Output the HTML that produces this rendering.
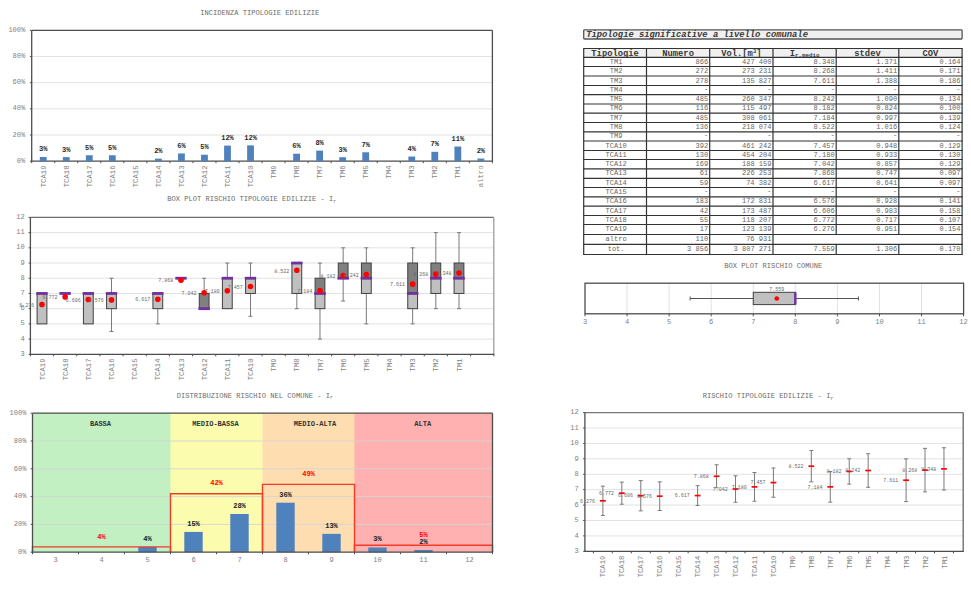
<!DOCTYPE html>
<html><head><meta charset="utf-8"><style>
html,body{margin:0;padding:0;background:#fff;}
svg{display:block;font-family:"Liberation Mono", monospace;}
</style></head><body>
<svg width="971" height="600" viewBox="0 0 971 600">
<text x="200.20" y="15.40" font-size="7.1" fill="#6a6a6a" text-anchor="start" font-weight="normal" font-style="normal" >INCIDENZA TIPOLOGIE EDILIZIE</text>
<line x1="31.70" y1="135.04" x2="492.40" y2="135.04" stroke="#e2e2e2" stroke-width="1" />
<line x1="31.70" y1="108.88" x2="492.40" y2="108.88" stroke="#e2e2e2" stroke-width="1" />
<line x1="31.70" y1="82.72" x2="492.40" y2="82.72" stroke="#e2e2e2" stroke-width="1" />
<line x1="31.70" y1="56.56" x2="492.40" y2="56.56" stroke="#e2e2e2" stroke-width="1" />
<line x1="31.70" y1="30.40" x2="492.40" y2="30.40" stroke="#4d4d4d" stroke-width="1.3" />
<line x1="492.40" y1="30.40" x2="492.40" y2="161.20" stroke="#4d4d4d" stroke-width="1.3" />
<line x1="31.70" y1="30.40" x2="31.70" y2="161.80" stroke="#4d4d4d" stroke-width="1.3" />
<line x1="31.10" y1="161.20" x2="493.00" y2="161.20" stroke="#4d4d4d" stroke-width="1.3" />
<line x1="29.90" y1="161.20" x2="31.70" y2="161.20" stroke="#4d4d4d" stroke-width="1" />
<text x="25.30" y="162.80" font-size="7.05" fill="#7f7f7f" text-anchor="end" font-weight="normal" font-style="normal" >0%</text>
<line x1="29.90" y1="135.04" x2="31.70" y2="135.04" stroke="#4d4d4d" stroke-width="1" />
<text x="25.30" y="136.64" font-size="7.05" fill="#7f7f7f" text-anchor="end" font-weight="normal" font-style="normal" >20%</text>
<line x1="29.90" y1="108.88" x2="31.70" y2="108.88" stroke="#4d4d4d" stroke-width="1" />
<text x="25.30" y="110.48" font-size="7.05" fill="#7f7f7f" text-anchor="end" font-weight="normal" font-style="normal" >40%</text>
<line x1="29.90" y1="82.72" x2="31.70" y2="82.72" stroke="#4d4d4d" stroke-width="1" />
<text x="25.30" y="84.32" font-size="7.05" fill="#7f7f7f" text-anchor="end" font-weight="normal" font-style="normal" >60%</text>
<line x1="29.90" y1="56.56" x2="31.70" y2="56.56" stroke="#4d4d4d" stroke-width="1" />
<text x="25.30" y="58.16" font-size="7.05" fill="#7f7f7f" text-anchor="end" font-weight="normal" font-style="normal" >80%</text>
<line x1="29.90" y1="30.40" x2="31.70" y2="30.40" stroke="#4d4d4d" stroke-width="1" />
<text x="25.30" y="32.00" font-size="7.05" fill="#7f7f7f" text-anchor="end" font-weight="normal" font-style="normal" >100%</text>
<line x1="31.70" y1="161.20" x2="31.70" y2="163.20" stroke="#4d4d4d" stroke-width="1" />
<line x1="54.73" y1="161.20" x2="54.73" y2="163.20" stroke="#4d4d4d" stroke-width="1" />
<line x1="77.77" y1="161.20" x2="77.77" y2="163.20" stroke="#4d4d4d" stroke-width="1" />
<line x1="100.81" y1="161.20" x2="100.81" y2="163.20" stroke="#4d4d4d" stroke-width="1" />
<line x1="123.84" y1="161.20" x2="123.84" y2="163.20" stroke="#4d4d4d" stroke-width="1" />
<line x1="146.88" y1="161.20" x2="146.88" y2="163.20" stroke="#4d4d4d" stroke-width="1" />
<line x1="169.91" y1="161.20" x2="169.91" y2="163.20" stroke="#4d4d4d" stroke-width="1" />
<line x1="192.94" y1="161.20" x2="192.94" y2="163.20" stroke="#4d4d4d" stroke-width="1" />
<line x1="215.98" y1="161.20" x2="215.98" y2="163.20" stroke="#4d4d4d" stroke-width="1" />
<line x1="239.01" y1="161.20" x2="239.01" y2="163.20" stroke="#4d4d4d" stroke-width="1" />
<line x1="262.05" y1="161.20" x2="262.05" y2="163.20" stroke="#4d4d4d" stroke-width="1" />
<line x1="285.08" y1="161.20" x2="285.08" y2="163.20" stroke="#4d4d4d" stroke-width="1" />
<line x1="308.12" y1="161.20" x2="308.12" y2="163.20" stroke="#4d4d4d" stroke-width="1" />
<line x1="331.15" y1="161.20" x2="331.15" y2="163.20" stroke="#4d4d4d" stroke-width="1" />
<line x1="354.19" y1="161.20" x2="354.19" y2="163.20" stroke="#4d4d4d" stroke-width="1" />
<line x1="377.22" y1="161.20" x2="377.22" y2="163.20" stroke="#4d4d4d" stroke-width="1" />
<line x1="400.26" y1="161.20" x2="400.26" y2="163.20" stroke="#4d4d4d" stroke-width="1" />
<line x1="423.30" y1="161.20" x2="423.30" y2="163.20" stroke="#4d4d4d" stroke-width="1" />
<line x1="446.33" y1="161.20" x2="446.33" y2="163.20" stroke="#4d4d4d" stroke-width="1" />
<line x1="469.37" y1="161.20" x2="469.37" y2="163.20" stroke="#4d4d4d" stroke-width="1" />
<line x1="492.40" y1="161.20" x2="492.40" y2="163.20" stroke="#4d4d4d" stroke-width="1" />
<rect x="39.82" y="156.97" width="6.80" height="4.23" fill="#4f81bd" stroke="none" stroke-width="1" />
<text x="43.22" y="151.47" font-size="7.05" fill="#2a2a2a" text-anchor="middle" font-weight="bold" font-style="normal" >3%</text>
<text transform="translate(45.83,165.50) rotate(-90)" font-size="7.25" fill="#7f7f7f" text-anchor="end">TCA19</text>
<rect x="62.85" y="157.14" width="6.80" height="4.06" fill="#4f81bd" stroke="none" stroke-width="1" />
<text x="66.25" y="151.64" font-size="7.05" fill="#2a2a2a" text-anchor="middle" font-weight="bold" font-style="normal" >3%</text>
<text transform="translate(68.86,165.50) rotate(-90)" font-size="7.25" fill="#7f7f7f" text-anchor="end">TCA18</text>
<rect x="85.89" y="155.24" width="6.80" height="5.96" fill="#4f81bd" stroke="none" stroke-width="1" />
<text x="89.29" y="149.74" font-size="7.05" fill="#2a2a2a" text-anchor="middle" font-weight="bold" font-style="normal" >5%</text>
<text transform="translate(91.90,165.50) rotate(-90)" font-size="7.25" fill="#7f7f7f" text-anchor="end">TCA17</text>
<rect x="108.92" y="155.26" width="6.80" height="5.94" fill="#4f81bd" stroke="none" stroke-width="1" />
<text x="112.32" y="149.76" font-size="7.05" fill="#2a2a2a" text-anchor="middle" font-weight="bold" font-style="normal" >5%</text>
<text transform="translate(114.93,165.50) rotate(-90)" font-size="7.25" fill="#7f7f7f" text-anchor="end">TCA16</text>
<text transform="translate(137.97,165.50) rotate(-90)" font-size="7.25" fill="#7f7f7f" text-anchor="end">TCA15</text>
<rect x="154.99" y="158.64" width="6.80" height="2.56" fill="#4f81bd" stroke="none" stroke-width="1" />
<text x="158.39" y="153.14" font-size="7.05" fill="#2a2a2a" text-anchor="middle" font-weight="bold" font-style="normal" >2%</text>
<text transform="translate(161.00,165.50) rotate(-90)" font-size="7.25" fill="#7f7f7f" text-anchor="end">TCA14</text>
<rect x="178.03" y="153.43" width="6.80" height="7.77" fill="#4f81bd" stroke="none" stroke-width="1" />
<text x="181.43" y="147.93" font-size="7.05" fill="#2a2a2a" text-anchor="middle" font-weight="bold" font-style="normal" >6%</text>
<text transform="translate(184.04,165.50) rotate(-90)" font-size="7.25" fill="#7f7f7f" text-anchor="end">TCA13</text>
<rect x="201.06" y="154.74" width="6.80" height="6.46" fill="#4f81bd" stroke="none" stroke-width="1" />
<text x="204.46" y="149.24" font-size="7.05" fill="#2a2a2a" text-anchor="middle" font-weight="bold" font-style="normal" >5%</text>
<text transform="translate(207.07,165.50) rotate(-90)" font-size="7.25" fill="#7f7f7f" text-anchor="end">TCA12</text>
<rect x="224.10" y="145.60" width="6.80" height="15.60" fill="#4f81bd" stroke="none" stroke-width="1" />
<text x="227.50" y="140.10" font-size="7.05" fill="#2a2a2a" text-anchor="middle" font-weight="bold" font-style="normal" >12%</text>
<text transform="translate(230.11,165.50) rotate(-90)" font-size="7.25" fill="#7f7f7f" text-anchor="end">TCA11</text>
<rect x="247.13" y="145.35" width="6.80" height="15.85" fill="#4f81bd" stroke="none" stroke-width="1" />
<text x="250.53" y="139.85" font-size="7.05" fill="#2a2a2a" text-anchor="middle" font-weight="bold" font-style="normal" >12%</text>
<text transform="translate(253.14,165.50) rotate(-90)" font-size="7.25" fill="#7f7f7f" text-anchor="end">TCA10</text>
<text transform="translate(276.18,165.50) rotate(-90)" font-size="7.25" fill="#7f7f7f" text-anchor="end">TM9</text>
<rect x="293.20" y="153.71" width="6.80" height="7.49" fill="#4f81bd" stroke="none" stroke-width="1" />
<text x="296.60" y="148.21" font-size="7.05" fill="#2a2a2a" text-anchor="middle" font-weight="bold" font-style="normal" >6%</text>
<text transform="translate(299.21,165.50) rotate(-90)" font-size="7.25" fill="#7f7f7f" text-anchor="end">TM8</text>
<rect x="316.24" y="150.62" width="6.80" height="10.58" fill="#4f81bd" stroke="none" stroke-width="1" />
<text x="319.64" y="145.12" font-size="7.05" fill="#2a2a2a" text-anchor="middle" font-weight="bold" font-style="normal" >8%</text>
<text transform="translate(322.25,165.50) rotate(-90)" font-size="7.25" fill="#7f7f7f" text-anchor="end">TM7</text>
<rect x="339.27" y="157.23" width="6.80" height="3.97" fill="#4f81bd" stroke="none" stroke-width="1" />
<text x="342.67" y="151.73" font-size="7.05" fill="#2a2a2a" text-anchor="middle" font-weight="bold" font-style="normal" >3%</text>
<text transform="translate(345.28,165.50) rotate(-90)" font-size="7.25" fill="#7f7f7f" text-anchor="end">TM6</text>
<rect x="362.31" y="152.26" width="6.80" height="8.94" fill="#4f81bd" stroke="none" stroke-width="1" />
<text x="365.71" y="146.76" font-size="7.05" fill="#2a2a2a" text-anchor="middle" font-weight="bold" font-style="normal" >7%</text>
<text transform="translate(368.32,165.50) rotate(-90)" font-size="7.25" fill="#7f7f7f" text-anchor="end">TM5</text>
<text transform="translate(391.35,165.50) rotate(-90)" font-size="7.25" fill="#7f7f7f" text-anchor="end">TM4</text>
<rect x="408.38" y="156.53" width="6.80" height="4.67" fill="#4f81bd" stroke="none" stroke-width="1" />
<text x="411.78" y="151.03" font-size="7.05" fill="#2a2a2a" text-anchor="middle" font-weight="bold" font-style="normal" >4%</text>
<text transform="translate(414.39,165.50) rotate(-90)" font-size="7.25" fill="#7f7f7f" text-anchor="end">TM3</text>
<rect x="431.41" y="151.81" width="6.80" height="9.39" fill="#4f81bd" stroke="none" stroke-width="1" />
<text x="434.81" y="146.31" font-size="7.05" fill="#2a2a2a" text-anchor="middle" font-weight="bold" font-style="normal" >7%</text>
<text transform="translate(437.42,165.50) rotate(-90)" font-size="7.25" fill="#7f7f7f" text-anchor="end">TM2</text>
<rect x="454.45" y="146.52" width="6.80" height="14.68" fill="#4f81bd" stroke="none" stroke-width="1" />
<text x="457.85" y="141.02" font-size="7.05" fill="#2a2a2a" text-anchor="middle" font-weight="bold" font-style="normal" >11%</text>
<text transform="translate(460.46,165.50) rotate(-90)" font-size="7.25" fill="#7f7f7f" text-anchor="end">TM1</text>
<rect x="477.48" y="158.56" width="6.80" height="2.64" fill="#4f81bd" stroke="none" stroke-width="1" />
<text x="480.88" y="153.06" font-size="7.05" fill="#2a2a2a" text-anchor="middle" font-weight="bold" font-style="normal" >2%</text>
<text transform="translate(483.49,165.50) rotate(-90)" font-size="7.25" fill="#7f7f7f" text-anchor="end">altro</text>
<text x="167.20" y="201.20" font-size="7.1" fill="#6a6a6a" text-anchor="start" font-weight="normal" font-style="normal" >BOX PLOT RISCHIO TIPOLOGIE EDILIZIE - I<tspan font-size="4.5" dy="1.8">r</tspan></text>
<line x1="30.40" y1="339.09" x2="493.75" y2="339.09" stroke="#e2e2e2" stroke-width="1" />
<line x1="30.40" y1="323.88" x2="493.75" y2="323.88" stroke="#e2e2e2" stroke-width="1" />
<line x1="30.40" y1="308.67" x2="493.75" y2="308.67" stroke="#e2e2e2" stroke-width="1" />
<line x1="30.40" y1="293.46" x2="493.75" y2="293.46" stroke="#e2e2e2" stroke-width="1" />
<line x1="30.40" y1="278.24" x2="493.75" y2="278.24" stroke="#e2e2e2" stroke-width="1" />
<line x1="30.40" y1="263.03" x2="493.75" y2="263.03" stroke="#e2e2e2" stroke-width="1" />
<line x1="30.40" y1="247.82" x2="493.75" y2="247.82" stroke="#e2e2e2" stroke-width="1" />
<line x1="30.40" y1="232.61" x2="493.75" y2="232.61" stroke="#e2e2e2" stroke-width="1" />
<line x1="30.40" y1="217.40" x2="493.75" y2="217.40" stroke="#6e6e6e" stroke-width="1.2" />
<line x1="493.75" y1="217.40" x2="493.75" y2="354.30" stroke="#aaaaaa" stroke-width="1.5" />
<line x1="30.40" y1="217.40" x2="30.40" y2="354.90" stroke="#4d4d4d" stroke-width="1.3" />
<line x1="29.80" y1="354.30" x2="494.35" y2="354.30" stroke="#4d4d4d" stroke-width="1.3" />
<line x1="28.60" y1="354.30" x2="30.40" y2="354.30" stroke="#4d4d4d" stroke-width="1" />
<text x="24.80" y="355.90" font-size="7.05" fill="#7f7f7f" text-anchor="end" font-weight="normal" font-style="normal" >3</text>
<line x1="28.60" y1="339.09" x2="30.40" y2="339.09" stroke="#4d4d4d" stroke-width="1" />
<text x="24.80" y="340.69" font-size="7.05" fill="#7f7f7f" text-anchor="end" font-weight="normal" font-style="normal" >4</text>
<line x1="28.60" y1="323.88" x2="30.40" y2="323.88" stroke="#4d4d4d" stroke-width="1" />
<text x="24.80" y="325.48" font-size="7.05" fill="#7f7f7f" text-anchor="end" font-weight="normal" font-style="normal" >5</text>
<line x1="28.60" y1="308.67" x2="30.40" y2="308.67" stroke="#4d4d4d" stroke-width="1" />
<text x="24.80" y="310.27" font-size="7.05" fill="#7f7f7f" text-anchor="end" font-weight="normal" font-style="normal" >6</text>
<line x1="28.60" y1="293.46" x2="30.40" y2="293.46" stroke="#4d4d4d" stroke-width="1" />
<text x="24.80" y="295.06" font-size="7.05" fill="#7f7f7f" text-anchor="end" font-weight="normal" font-style="normal" >7</text>
<line x1="28.60" y1="278.24" x2="30.40" y2="278.24" stroke="#4d4d4d" stroke-width="1" />
<text x="24.80" y="279.84" font-size="7.05" fill="#7f7f7f" text-anchor="end" font-weight="normal" font-style="normal" >8</text>
<line x1="28.60" y1="263.03" x2="30.40" y2="263.03" stroke="#4d4d4d" stroke-width="1" />
<text x="24.80" y="264.63" font-size="7.05" fill="#7f7f7f" text-anchor="end" font-weight="normal" font-style="normal" >9</text>
<line x1="28.60" y1="247.82" x2="30.40" y2="247.82" stroke="#4d4d4d" stroke-width="1" />
<text x="24.80" y="249.42" font-size="7.05" fill="#7f7f7f" text-anchor="end" font-weight="normal" font-style="normal" >10</text>
<line x1="28.60" y1="232.61" x2="30.40" y2="232.61" stroke="#4d4d4d" stroke-width="1" />
<text x="24.80" y="234.21" font-size="7.05" fill="#7f7f7f" text-anchor="end" font-weight="normal" font-style="normal" >11</text>
<line x1="28.60" y1="217.40" x2="30.40" y2="217.40" stroke="#4d4d4d" stroke-width="1" />
<text x="24.80" y="219.00" font-size="7.05" fill="#7f7f7f" text-anchor="end" font-weight="normal" font-style="normal" >12</text>
<line x1="30.40" y1="354.30" x2="30.40" y2="356.30" stroke="#4d4d4d" stroke-width="1" />
<line x1="53.57" y1="354.30" x2="53.57" y2="356.30" stroke="#4d4d4d" stroke-width="1" />
<line x1="76.73" y1="354.30" x2="76.73" y2="356.30" stroke="#4d4d4d" stroke-width="1" />
<line x1="99.90" y1="354.30" x2="99.90" y2="356.30" stroke="#4d4d4d" stroke-width="1" />
<line x1="123.07" y1="354.30" x2="123.07" y2="356.30" stroke="#4d4d4d" stroke-width="1" />
<line x1="146.24" y1="354.30" x2="146.24" y2="356.30" stroke="#4d4d4d" stroke-width="1" />
<line x1="169.41" y1="354.30" x2="169.41" y2="356.30" stroke="#4d4d4d" stroke-width="1" />
<line x1="192.57" y1="354.30" x2="192.57" y2="356.30" stroke="#4d4d4d" stroke-width="1" />
<line x1="215.74" y1="354.30" x2="215.74" y2="356.30" stroke="#4d4d4d" stroke-width="1" />
<line x1="238.91" y1="354.30" x2="238.91" y2="356.30" stroke="#4d4d4d" stroke-width="1" />
<line x1="262.07" y1="354.30" x2="262.07" y2="356.30" stroke="#4d4d4d" stroke-width="1" />
<line x1="285.24" y1="354.30" x2="285.24" y2="356.30" stroke="#4d4d4d" stroke-width="1" />
<line x1="308.41" y1="354.30" x2="308.41" y2="356.30" stroke="#4d4d4d" stroke-width="1" />
<line x1="331.58" y1="354.30" x2="331.58" y2="356.30" stroke="#4d4d4d" stroke-width="1" />
<line x1="354.75" y1="354.30" x2="354.75" y2="356.30" stroke="#4d4d4d" stroke-width="1" />
<line x1="377.91" y1="354.30" x2="377.91" y2="356.30" stroke="#4d4d4d" stroke-width="1" />
<line x1="401.08" y1="354.30" x2="401.08" y2="356.30" stroke="#4d4d4d" stroke-width="1" />
<line x1="424.25" y1="354.30" x2="424.25" y2="356.30" stroke="#4d4d4d" stroke-width="1" />
<line x1="447.41" y1="354.30" x2="447.41" y2="356.30" stroke="#4d4d4d" stroke-width="1" />
<line x1="470.58" y1="354.30" x2="470.58" y2="356.30" stroke="#4d4d4d" stroke-width="1" />
<line x1="493.75" y1="354.30" x2="493.75" y2="356.30" stroke="#4d4d4d" stroke-width="1" />
<text transform="translate(44.59,358.50) rotate(-90)" font-size="7.25" fill="#7f7f7f" text-anchor="end">TCA19</text>
<rect x="37.08" y="293.46" width="9.80" height="30.42" fill="#c0c0c0" stroke="#404040" stroke-width="1" />
<rect x="36.28" y="292.06" width="11.40" height="2.80" fill="#7030a0" stroke="none" stroke-width="1" />
<circle cx="41.98" cy="304.47" r="2.8" fill="#ff0000"/>
<text x="34.38" y="306.67" font-size="5" fill="#666" text-anchor="end" font-weight="normal" font-style="normal" >6.276</text>
<text transform="translate(67.76,358.50) rotate(-90)" font-size="7.25" fill="#7f7f7f" text-anchor="end">TCA18</text>
<rect x="59.45" y="292.06" width="11.40" height="2.80" fill="#7030a0" stroke="none" stroke-width="1" />
<circle cx="65.15" cy="296.92" r="2.8" fill="#ff0000"/>
<text x="57.55" y="299.12" font-size="5" fill="#666" text-anchor="end" font-weight="normal" font-style="normal" >6.772</text>
<text transform="translate(90.93,358.50) rotate(-90)" font-size="7.25" fill="#7f7f7f" text-anchor="end">TCA17</text>
<rect x="83.42" y="293.46" width="9.80" height="30.42" fill="#c0c0c0" stroke="#404040" stroke-width="1" />
<rect x="82.62" y="292.06" width="11.40" height="2.80" fill="#7030a0" stroke="none" stroke-width="1" />
<circle cx="88.32" cy="299.45" r="2.8" fill="#ff0000"/>
<text x="80.72" y="301.65" font-size="5" fill="#666" text-anchor="end" font-weight="normal" font-style="normal" >6.606</text>
<text transform="translate(114.10,358.50) rotate(-90)" font-size="7.25" fill="#7f7f7f" text-anchor="end">TCA16</text>
<line x1="111.49" y1="331.48" x2="111.49" y2="308.67" stroke="#7a7a7a" stroke-width="1" />
<line x1="109.49" y1="331.48" x2="113.49" y2="331.48" stroke="#7a7a7a" stroke-width="1" />
<line x1="111.49" y1="278.24" x2="111.49" y2="293.46" stroke="#7a7a7a" stroke-width="1" />
<line x1="109.49" y1="278.24" x2="113.49" y2="278.24" stroke="#7a7a7a" stroke-width="1" />
<rect x="106.59" y="293.46" width="9.80" height="15.21" fill="#c0c0c0" stroke="#404040" stroke-width="1" />
<rect x="105.79" y="292.06" width="11.40" height="2.80" fill="#7030a0" stroke="none" stroke-width="1" />
<circle cx="111.49" cy="299.91" r="2.8" fill="#ff0000"/>
<text x="103.89" y="302.11" font-size="5" fill="#666" text-anchor="end" font-weight="normal" font-style="normal" >6.576</text>
<text transform="translate(137.26,358.50) rotate(-90)" font-size="7.25" fill="#7f7f7f" text-anchor="end">TCA15</text>
<text transform="translate(160.43,358.50) rotate(-90)" font-size="7.25" fill="#7f7f7f" text-anchor="end">TCA14</text>
<line x1="157.82" y1="323.88" x2="157.82" y2="308.67" stroke="#7a7a7a" stroke-width="1" />
<line x1="155.82" y1="323.88" x2="159.82" y2="323.88" stroke="#7a7a7a" stroke-width="1" />
<rect x="152.92" y="293.46" width="9.80" height="15.21" fill="#c0c0c0" stroke="#404040" stroke-width="1" />
<rect x="152.12" y="292.06" width="11.40" height="2.80" fill="#7030a0" stroke="none" stroke-width="1" />
<circle cx="157.82" cy="299.28" r="2.8" fill="#ff0000"/>
<text x="150.22" y="301.48" font-size="5" fill="#666" text-anchor="end" font-weight="normal" font-style="normal" >6.617</text>
<text transform="translate(183.60,358.50) rotate(-90)" font-size="7.25" fill="#7f7f7f" text-anchor="end">TCA13</text>
<rect x="175.29" y="276.84" width="11.40" height="2.80" fill="#7030a0" stroke="none" stroke-width="1" />
<circle cx="180.99" cy="280.25" r="2.8" fill="#ff0000"/>
<text x="173.39" y="282.45" font-size="5" fill="#666" text-anchor="end" font-weight="normal" font-style="normal" >7.868</text>
<text transform="translate(206.77,358.50) rotate(-90)" font-size="7.25" fill="#7f7f7f" text-anchor="end">TCA12</text>
<line x1="204.16" y1="278.24" x2="204.16" y2="293.46" stroke="#7a7a7a" stroke-width="1" />
<line x1="202.16" y1="278.24" x2="206.16" y2="278.24" stroke="#7a7a7a" stroke-width="1" />
<rect x="199.26" y="293.46" width="9.80" height="15.21" fill="#808080" stroke="#404040" stroke-width="1" />
<rect x="198.46" y="307.27" width="11.40" height="2.80" fill="#7030a0" stroke="none" stroke-width="1" />
<circle cx="204.16" cy="292.82" r="2.8" fill="#ff0000"/>
<text x="196.56" y="295.02" font-size="5" fill="#666" text-anchor="end" font-weight="normal" font-style="normal" >7.042</text>
<text transform="translate(229.93,358.50) rotate(-90)" font-size="7.25" fill="#7f7f7f" text-anchor="end">TCA11</text>
<line x1="227.32" y1="263.03" x2="227.32" y2="278.24" stroke="#7a7a7a" stroke-width="1" />
<line x1="225.32" y1="263.03" x2="229.32" y2="263.03" stroke="#7a7a7a" stroke-width="1" />
<rect x="222.42" y="278.24" width="9.80" height="30.42" fill="#c0c0c0" stroke="#404040" stroke-width="1" />
<rect x="221.62" y="276.84" width="11.40" height="2.80" fill="#7030a0" stroke="none" stroke-width="1" />
<circle cx="227.32" cy="290.72" r="2.8" fill="#ff0000"/>
<text x="219.72" y="292.92" font-size="5" fill="#666" text-anchor="end" font-weight="normal" font-style="normal" >7.180</text>
<text transform="translate(253.10,358.50) rotate(-90)" font-size="7.25" fill="#7f7f7f" text-anchor="end">TCA10</text>
<line x1="250.49" y1="316.27" x2="250.49" y2="293.46" stroke="#7a7a7a" stroke-width="1" />
<line x1="248.49" y1="316.27" x2="252.49" y2="316.27" stroke="#7a7a7a" stroke-width="1" />
<line x1="250.49" y1="263.03" x2="250.49" y2="278.24" stroke="#7a7a7a" stroke-width="1" />
<line x1="248.49" y1="263.03" x2="252.49" y2="263.03" stroke="#7a7a7a" stroke-width="1" />
<rect x="245.59" y="278.24" width="9.80" height="15.21" fill="#c0c0c0" stroke="#404040" stroke-width="1" />
<rect x="244.79" y="276.84" width="11.40" height="2.80" fill="#7030a0" stroke="none" stroke-width="1" />
<circle cx="250.49" cy="286.50" r="2.8" fill="#ff0000"/>
<text x="242.89" y="288.70" font-size="5" fill="#666" text-anchor="end" font-weight="normal" font-style="normal" >7.457</text>
<text transform="translate(276.27,358.50) rotate(-90)" font-size="7.25" fill="#7f7f7f" text-anchor="end">TM9</text>
<text transform="translate(299.44,358.50) rotate(-90)" font-size="7.25" fill="#7f7f7f" text-anchor="end">TM8</text>
<line x1="296.83" y1="308.67" x2="296.83" y2="293.46" stroke="#7a7a7a" stroke-width="1" />
<line x1="294.83" y1="308.67" x2="298.83" y2="308.67" stroke="#7a7a7a" stroke-width="1" />
<rect x="291.93" y="263.03" width="9.80" height="30.42" fill="#c0c0c0" stroke="#404040" stroke-width="1" />
<rect x="291.13" y="261.63" width="11.40" height="2.80" fill="#7030a0" stroke="none" stroke-width="1" />
<circle cx="296.83" cy="270.30" r="2.8" fill="#ff0000"/>
<text x="289.23" y="272.50" font-size="5" fill="#666" text-anchor="end" font-weight="normal" font-style="normal" >8.522</text>
<text transform="translate(322.60,358.50) rotate(-90)" font-size="7.25" fill="#7f7f7f" text-anchor="end">TM7</text>
<line x1="319.99" y1="339.09" x2="319.99" y2="308.67" stroke="#7a7a7a" stroke-width="1" />
<line x1="317.99" y1="339.09" x2="321.99" y2="339.09" stroke="#7a7a7a" stroke-width="1" />
<line x1="319.99" y1="263.03" x2="319.99" y2="278.24" stroke="#7a7a7a" stroke-width="1" />
<line x1="317.99" y1="263.03" x2="321.99" y2="263.03" stroke="#7a7a7a" stroke-width="1" />
<rect x="315.09" y="293.46" width="9.80" height="15.21" fill="#c0c0c0" stroke="#404040" stroke-width="1" />
<rect x="315.09" y="278.24" width="9.80" height="15.21" fill="#808080" stroke="#404040" stroke-width="1" />
<rect x="314.29" y="292.06" width="11.40" height="2.80" fill="#7030a0" stroke="none" stroke-width="1" />
<circle cx="319.99" cy="290.66" r="2.8" fill="#ff0000"/>
<text x="312.39" y="292.86" font-size="5" fill="#666" text-anchor="end" font-weight="normal" font-style="normal" >7.184</text>
<text transform="translate(345.77,358.50) rotate(-90)" font-size="7.25" fill="#7f7f7f" text-anchor="end">TM6</text>
<line x1="343.16" y1="301.06" x2="343.16" y2="278.24" stroke="#7a7a7a" stroke-width="1" />
<line x1="341.16" y1="301.06" x2="345.16" y2="301.06" stroke="#7a7a7a" stroke-width="1" />
<line x1="343.16" y1="247.82" x2="343.16" y2="263.03" stroke="#7a7a7a" stroke-width="1" />
<line x1="341.16" y1="247.82" x2="345.16" y2="247.82" stroke="#7a7a7a" stroke-width="1" />
<rect x="338.26" y="263.03" width="9.80" height="15.21" fill="#808080" stroke="#404040" stroke-width="1" />
<rect x="337.46" y="276.84" width="11.40" height="2.80" fill="#7030a0" stroke="none" stroke-width="1" />
<circle cx="343.16" cy="275.48" r="2.8" fill="#ff0000"/>
<text x="335.56" y="277.68" font-size="5" fill="#666" text-anchor="end" font-weight="normal" font-style="normal" >8.182</text>
<text transform="translate(368.94,358.50) rotate(-90)" font-size="7.25" fill="#7f7f7f" text-anchor="end">TM5</text>
<line x1="366.33" y1="323.88" x2="366.33" y2="293.46" stroke="#7a7a7a" stroke-width="1" />
<line x1="364.33" y1="323.88" x2="368.33" y2="323.88" stroke="#7a7a7a" stroke-width="1" />
<line x1="366.33" y1="247.82" x2="366.33" y2="263.03" stroke="#7a7a7a" stroke-width="1" />
<line x1="364.33" y1="247.82" x2="368.33" y2="247.82" stroke="#7a7a7a" stroke-width="1" />
<rect x="361.43" y="278.24" width="9.80" height="15.21" fill="#c0c0c0" stroke="#404040" stroke-width="1" />
<rect x="361.43" y="263.03" width="9.80" height="15.21" fill="#808080" stroke="#404040" stroke-width="1" />
<rect x="360.63" y="276.84" width="11.40" height="2.80" fill="#7030a0" stroke="none" stroke-width="1" />
<circle cx="366.33" cy="274.56" r="2.8" fill="#ff0000"/>
<text x="358.73" y="276.76" font-size="5" fill="#666" text-anchor="end" font-weight="normal" font-style="normal" >8.242</text>
<text transform="translate(392.11,358.50) rotate(-90)" font-size="7.25" fill="#7f7f7f" text-anchor="end">TM4</text>
<text transform="translate(415.27,358.50) rotate(-90)" font-size="7.25" fill="#7f7f7f" text-anchor="end">TM3</text>
<line x1="412.66" y1="323.88" x2="412.66" y2="308.67" stroke="#7a7a7a" stroke-width="1" />
<line x1="410.66" y1="323.88" x2="414.66" y2="323.88" stroke="#7a7a7a" stroke-width="1" />
<line x1="412.66" y1="247.82" x2="412.66" y2="263.03" stroke="#7a7a7a" stroke-width="1" />
<line x1="410.66" y1="247.82" x2="414.66" y2="247.82" stroke="#7a7a7a" stroke-width="1" />
<rect x="407.76" y="293.46" width="9.80" height="15.21" fill="#c0c0c0" stroke="#404040" stroke-width="1" />
<rect x="407.76" y="263.03" width="9.80" height="30.42" fill="#808080" stroke="#404040" stroke-width="1" />
<rect x="406.96" y="292.06" width="11.40" height="2.80" fill="#7030a0" stroke="none" stroke-width="1" />
<circle cx="412.66" cy="284.16" r="2.8" fill="#ff0000"/>
<text x="405.06" y="286.36" font-size="5" fill="#666" text-anchor="end" font-weight="normal" font-style="normal" >7.611</text>
<text transform="translate(438.44,358.50) rotate(-90)" font-size="7.25" fill="#7f7f7f" text-anchor="end">TM2</text>
<line x1="435.83" y1="308.67" x2="435.83" y2="293.46" stroke="#7a7a7a" stroke-width="1" />
<line x1="433.83" y1="308.67" x2="437.83" y2="308.67" stroke="#7a7a7a" stroke-width="1" />
<line x1="435.83" y1="232.61" x2="435.83" y2="263.03" stroke="#7a7a7a" stroke-width="1" />
<line x1="433.83" y1="232.61" x2="437.83" y2="232.61" stroke="#7a7a7a" stroke-width="1" />
<rect x="430.93" y="278.24" width="9.80" height="15.21" fill="#c0c0c0" stroke="#404040" stroke-width="1" />
<rect x="430.93" y="263.03" width="9.80" height="15.21" fill="#808080" stroke="#404040" stroke-width="1" />
<rect x="430.13" y="276.84" width="11.40" height="2.80" fill="#7030a0" stroke="none" stroke-width="1" />
<circle cx="435.83" cy="274.17" r="2.8" fill="#ff0000"/>
<text x="428.23" y="276.37" font-size="5" fill="#666" text-anchor="end" font-weight="normal" font-style="normal" >8.268</text>
<text transform="translate(461.61,358.50) rotate(-90)" font-size="7.25" fill="#7f7f7f" text-anchor="end">TM1</text>
<line x1="459.00" y1="308.67" x2="459.00" y2="293.46" stroke="#7a7a7a" stroke-width="1" />
<line x1="457.00" y1="308.67" x2="461.00" y2="308.67" stroke="#7a7a7a" stroke-width="1" />
<line x1="459.00" y1="232.61" x2="459.00" y2="263.03" stroke="#7a7a7a" stroke-width="1" />
<line x1="457.00" y1="232.61" x2="461.00" y2="232.61" stroke="#7a7a7a" stroke-width="1" />
<rect x="454.10" y="278.24" width="9.80" height="15.21" fill="#c0c0c0" stroke="#404040" stroke-width="1" />
<rect x="454.10" y="263.03" width="9.80" height="15.21" fill="#808080" stroke="#404040" stroke-width="1" />
<rect x="453.30" y="276.84" width="11.40" height="2.80" fill="#7030a0" stroke="none" stroke-width="1" />
<circle cx="459.00" cy="272.95" r="2.8" fill="#ff0000"/>
<text x="451.40" y="275.15" font-size="5" fill="#666" text-anchor="end" font-weight="normal" font-style="normal" >8.348</text>
<text x="176.70" y="397.50" font-size="7.1" fill="#6a6a6a" text-anchor="start" font-weight="normal" font-style="normal" >DISTRIBUZIONE RISCHIO NEL COMUNE - I<tspan font-size="4.5" dy="1.8">r</tspan></text>
<rect x="32.50" y="413.20" width="460.00" height="139.00" fill="#c2f0c2" stroke="none" stroke-width="1" />
<rect x="170.50" y="413.20" width="322.00" height="139.00" fill="#fcfcae" stroke="none" stroke-width="1" />
<rect x="262.50" y="413.20" width="230.00" height="139.00" fill="#fedeb0" stroke="none" stroke-width="1" />
<rect x="354.50" y="413.20" width="138.00" height="139.00" fill="#ffb0b0" stroke="none" stroke-width="1" />
<line x1="32.50" y1="524.40" x2="492.50" y2="524.40" stroke="#d4d4d4" stroke-width="1" opacity="0.85"/>
<line x1="32.50" y1="496.60" x2="492.50" y2="496.60" stroke="#d4d4d4" stroke-width="1" opacity="0.85"/>
<line x1="32.50" y1="468.80" x2="492.50" y2="468.80" stroke="#d4d4d4" stroke-width="1" opacity="0.85"/>
<line x1="32.50" y1="441.00" x2="492.50" y2="441.00" stroke="#d4d4d4" stroke-width="1" opacity="0.85"/>
<rect x="138.30" y="546.92" width="18.40" height="5.28" fill="#4f81bd" stroke="none" stroke-width="1" />
<text x="147.50" y="540.92" font-size="7.05" fill="#1a1a1a" text-anchor="middle" font-weight="bold" font-style="normal" >4%</text>
<rect x="184.30" y="531.91" width="18.40" height="20.29" fill="#4f81bd" stroke="none" stroke-width="1" />
<text x="193.50" y="525.91" font-size="7.05" fill="#1a1a1a" text-anchor="middle" font-weight="bold" font-style="normal" >15%</text>
<rect x="230.30" y="513.98" width="18.40" height="38.23" fill="#4f81bd" stroke="none" stroke-width="1" />
<text x="239.50" y="507.98" font-size="7.05" fill="#1a1a1a" text-anchor="middle" font-weight="bold" font-style="normal" >28%</text>
<rect x="276.30" y="502.72" width="18.40" height="49.48" fill="#4f81bd" stroke="none" stroke-width="1" />
<text x="285.50" y="496.72" font-size="7.05" fill="#1a1a1a" text-anchor="middle" font-weight="bold" font-style="normal" >36%</text>
<rect x="322.30" y="533.85" width="18.40" height="18.35" fill="#4f81bd" stroke="none" stroke-width="1" />
<text x="331.50" y="527.85" font-size="7.05" fill="#1a1a1a" text-anchor="middle" font-weight="bold" font-style="normal" >13%</text>
<rect x="368.30" y="547.47" width="18.40" height="4.73" fill="#4f81bd" stroke="none" stroke-width="1" />
<text x="377.50" y="541.47" font-size="7.05" fill="#1a1a1a" text-anchor="middle" font-weight="bold" font-style="normal" >3%</text>
<rect x="414.30" y="549.98" width="18.40" height="2.22" fill="#4f81bd" stroke="none" stroke-width="1" />
<text x="423.50" y="543.98" font-size="7.05" fill="#1a1a1a" text-anchor="middle" font-weight="bold" font-style="normal" >2%</text>
<path d="M32.50,552.20 L32.50,546.92 L170.50,546.92 L170.50,552.20" fill="none" stroke="#f03c28" stroke-width="1.4"/>
<text x="101.50" y="538.52" font-size="7.05" fill="#ff0000" text-anchor="middle" font-weight="bold" font-style="normal" >4%</text>
<text x="100.50" y="426.20" font-size="7.05" fill="#333" text-anchor="middle" font-weight="bold" font-style="normal" >BASSA</text>
<path d="M170.50,552.20 L170.50,493.68 L262.50,493.68 L262.50,552.20" fill="none" stroke="#f03c28" stroke-width="1.4"/>
<text x="216.50" y="485.28" font-size="7.05" fill="#ff0000" text-anchor="middle" font-weight="bold" font-style="normal" >42%</text>
<text x="215.50" y="426.20" font-size="7.05" fill="#333" text-anchor="middle" font-weight="bold" font-style="normal" >MEDIO-BASSA</text>
<path d="M262.50,552.20 L262.50,484.37 L354.50,484.37 L354.50,552.20" fill="none" stroke="#f03c28" stroke-width="1.4"/>
<text x="308.50" y="475.97" font-size="7.05" fill="#ff0000" text-anchor="middle" font-weight="bold" font-style="normal" >49%</text>
<text x="315.00" y="426.20" font-size="7.05" fill="#333" text-anchor="middle" font-weight="bold" font-style="normal" >MEDIO-ALTA</text>
<path d="M354.50,552.20 L354.50,545.25 L492.50,545.25 L492.50,552.20" fill="none" stroke="#f03c28" stroke-width="1.4"/>
<text x="423.50" y="536.85" font-size="7.05" fill="#ff0000" text-anchor="middle" font-weight="bold" font-style="normal" >5%</text>
<text x="422.80" y="426.20" font-size="7.05" fill="#333" text-anchor="middle" font-weight="bold" font-style="normal" >ALTA</text>
<line x1="32.50" y1="413.20" x2="492.50" y2="413.20" stroke="#4d4d4d" stroke-width="1.3" />
<line x1="492.50" y1="413.20" x2="492.50" y2="552.20" stroke="#4d4d4d" stroke-width="1.3" />
<line x1="32.50" y1="413.20" x2="32.50" y2="552.80" stroke="#4d4d4d" stroke-width="1.3" />
<line x1="31.90" y1="552.20" x2="493.10" y2="552.20" stroke="#4d4d4d" stroke-width="1.3" />
<line x1="30.70" y1="552.20" x2="32.50" y2="552.20" stroke="#4d4d4d" stroke-width="1" />
<text x="26.50" y="554.00" font-size="7.05" fill="#7f7f7f" text-anchor="end" font-weight="normal" font-style="normal" >0%</text>
<line x1="30.70" y1="524.40" x2="32.50" y2="524.40" stroke="#4d4d4d" stroke-width="1" />
<text x="26.50" y="526.20" font-size="7.05" fill="#7f7f7f" text-anchor="end" font-weight="normal" font-style="normal" >20%</text>
<line x1="30.70" y1="496.60" x2="32.50" y2="496.60" stroke="#4d4d4d" stroke-width="1" />
<text x="26.50" y="498.40" font-size="7.05" fill="#7f7f7f" text-anchor="end" font-weight="normal" font-style="normal" >40%</text>
<line x1="30.70" y1="468.80" x2="32.50" y2="468.80" stroke="#4d4d4d" stroke-width="1" />
<text x="26.50" y="470.60" font-size="7.05" fill="#7f7f7f" text-anchor="end" font-weight="normal" font-style="normal" >60%</text>
<line x1="30.70" y1="441.00" x2="32.50" y2="441.00" stroke="#4d4d4d" stroke-width="1" />
<text x="26.50" y="442.80" font-size="7.05" fill="#7f7f7f" text-anchor="end" font-weight="normal" font-style="normal" >80%</text>
<line x1="30.70" y1="413.20" x2="32.50" y2="413.20" stroke="#4d4d4d" stroke-width="1" />
<text x="26.50" y="415.00" font-size="7.05" fill="#7f7f7f" text-anchor="end" font-weight="normal" font-style="normal" >100%</text>
<line x1="32.50" y1="552.20" x2="32.50" y2="554.20" stroke="#4d4d4d" stroke-width="1" />
<line x1="78.50" y1="552.20" x2="78.50" y2="554.20" stroke="#4d4d4d" stroke-width="1" />
<line x1="124.50" y1="552.20" x2="124.50" y2="554.20" stroke="#4d4d4d" stroke-width="1" />
<line x1="170.50" y1="552.20" x2="170.50" y2="554.20" stroke="#4d4d4d" stroke-width="1" />
<line x1="216.50" y1="552.20" x2="216.50" y2="554.20" stroke="#4d4d4d" stroke-width="1" />
<line x1="262.50" y1="552.20" x2="262.50" y2="554.20" stroke="#4d4d4d" stroke-width="1" />
<line x1="308.50" y1="552.20" x2="308.50" y2="554.20" stroke="#4d4d4d" stroke-width="1" />
<line x1="354.50" y1="552.20" x2="354.50" y2="554.20" stroke="#4d4d4d" stroke-width="1" />
<line x1="400.50" y1="552.20" x2="400.50" y2="554.20" stroke="#4d4d4d" stroke-width="1" />
<line x1="446.50" y1="552.20" x2="446.50" y2="554.20" stroke="#4d4d4d" stroke-width="1" />
<line x1="492.50" y1="552.20" x2="492.50" y2="554.20" stroke="#4d4d4d" stroke-width="1" />
<text x="55.50" y="562.00" font-size="7.05" fill="#7f7f7f" text-anchor="middle" font-weight="normal" font-style="normal" >3</text>
<text x="101.50" y="562.00" font-size="7.05" fill="#7f7f7f" text-anchor="middle" font-weight="normal" font-style="normal" >4</text>
<text x="147.50" y="562.00" font-size="7.05" fill="#7f7f7f" text-anchor="middle" font-weight="normal" font-style="normal" >5</text>
<text x="193.50" y="562.00" font-size="7.05" fill="#7f7f7f" text-anchor="middle" font-weight="normal" font-style="normal" >6</text>
<text x="239.50" y="562.00" font-size="7.05" fill="#7f7f7f" text-anchor="middle" font-weight="normal" font-style="normal" >7</text>
<text x="285.50" y="562.00" font-size="7.05" fill="#7f7f7f" text-anchor="middle" font-weight="normal" font-style="normal" >8</text>
<text x="331.50" y="562.00" font-size="7.05" fill="#7f7f7f" text-anchor="middle" font-weight="normal" font-style="normal" >9</text>
<text x="377.50" y="562.00" font-size="7.05" fill="#7f7f7f" text-anchor="middle" font-weight="normal" font-style="normal" >10</text>
<text x="423.50" y="562.00" font-size="7.05" fill="#7f7f7f" text-anchor="middle" font-weight="normal" font-style="normal" >11</text>
<text x="469.50" y="562.00" font-size="7.05" fill="#7f7f7f" text-anchor="middle" font-weight="normal" font-style="normal" >12</text>
<rect x="583.70" y="29.80" width="378.40" height="9.20" fill="#f0f0f0" stroke="#555" stroke-width="1.3" rx="0.8"/>
<text x="586.20" y="37.00" font-size="8.8" fill="#383838" text-anchor="start" font-weight="bold" font-style="italic" >Tipologie significative a livello comunale</text>
<rect x="583.70" y="48.50" width="378.40" height="8.80" fill="#f0f0f0" stroke="none" stroke-width="1" />
<text x="615.10" y="55.50" font-size="8.8" fill="#383838" text-anchor="middle" font-weight="bold" font-style="normal" >Tipologie</text>
<text x="678.10" y="55.50" font-size="8.8" fill="#383838" text-anchor="middle" font-weight="bold" font-style="normal" >Numero</text>
<text x="741.35" y="55.50" font-size="8.8" fill="#383838" text-anchor="middle" font-weight="bold" font-style="normal" >Vol.[m<tspan font-size="5.5" dy="-3">3</tspan><tspan dy="3">]</tspan></text>
<text x="804.60" y="55.50" font-size="8.8" fill="#383838" text-anchor="middle" font-weight="bold" font-style="normal" >I<tspan font-size="5.8" dy="1.6">r,medio</tspan></text>
<text x="867.50" y="55.50" font-size="8.8" fill="#383838" text-anchor="middle" font-weight="bold" font-style="normal" >stdev</text>
<text x="930.45" y="55.50" font-size="8.8" fill="#383838" text-anchor="middle" font-weight="bold" font-style="normal" >COV</text>
<text x="616.10" y="63.70" font-size="7" fill="#666" text-anchor="middle" font-weight="normal" font-style="normal" >TM1</text>
<text x="708.10" y="63.70" font-size="7" fill="#666" text-anchor="end" font-weight="normal" font-style="normal" >866</text>
<text x="771.40" y="63.70" font-size="7" fill="#666" text-anchor="end" font-weight="normal" font-style="normal" >427 400</text>
<text x="834.60" y="63.70" font-size="7" fill="#666" text-anchor="end" font-weight="normal" font-style="normal" >8.348</text>
<text x="897.20" y="63.70" font-size="7" fill="#666" text-anchor="end" font-weight="normal" font-style="normal" >1.371</text>
<text x="960.50" y="63.70" font-size="7" fill="#666" text-anchor="end" font-weight="normal" font-style="normal" >0.164</text>
<text x="616.10" y="73.05" font-size="7" fill="#666" text-anchor="middle" font-weight="normal" font-style="normal" >TM2</text>
<text x="708.10" y="73.05" font-size="7" fill="#666" text-anchor="end" font-weight="normal" font-style="normal" >272</text>
<text x="771.40" y="73.05" font-size="7" fill="#666" text-anchor="end" font-weight="normal" font-style="normal" >273 231</text>
<text x="834.60" y="73.05" font-size="7" fill="#666" text-anchor="end" font-weight="normal" font-style="normal" >8.268</text>
<text x="897.20" y="73.05" font-size="7" fill="#666" text-anchor="end" font-weight="normal" font-style="normal" >1.411</text>
<text x="960.50" y="73.05" font-size="7" fill="#666" text-anchor="end" font-weight="normal" font-style="normal" >0.171</text>
<text x="616.10" y="82.55" font-size="7" fill="#666" text-anchor="middle" font-weight="normal" font-style="normal" >TM3</text>
<text x="708.10" y="82.55" font-size="7" fill="#666" text-anchor="end" font-weight="normal" font-style="normal" >278</text>
<text x="771.40" y="82.55" font-size="7" fill="#666" text-anchor="end" font-weight="normal" font-style="normal" >135 827</text>
<text x="834.60" y="82.55" font-size="7" fill="#666" text-anchor="end" font-weight="normal" font-style="normal" >7.611</text>
<text x="897.20" y="82.55" font-size="7" fill="#666" text-anchor="end" font-weight="normal" font-style="normal" >1.388</text>
<text x="960.50" y="82.55" font-size="7" fill="#666" text-anchor="end" font-weight="normal" font-style="normal" >0.186</text>
<text x="616.10" y="91.90" font-size="7" fill="#666" text-anchor="middle" font-weight="normal" font-style="normal" >TM4</text>
<text x="708.10" y="90.90" font-size="7" fill="#666" text-anchor="end" font-weight="normal" font-style="normal" >-</text>
<text x="771.40" y="90.90" font-size="7" fill="#666" text-anchor="end" font-weight="normal" font-style="normal" >-</text>
<text x="834.60" y="90.90" font-size="7" fill="#666" text-anchor="end" font-weight="normal" font-style="normal" >-</text>
<text x="897.20" y="90.90" font-size="7" fill="#666" text-anchor="end" font-weight="normal" font-style="normal" >-</text>
<text x="960.50" y="90.90" font-size="7" fill="#666" text-anchor="end" font-weight="normal" font-style="normal" >-</text>
<text x="616.10" y="101.15" font-size="7" fill="#666" text-anchor="middle" font-weight="normal" font-style="normal" >TM5</text>
<text x="708.10" y="101.15" font-size="7" fill="#666" text-anchor="end" font-weight="normal" font-style="normal" >485</text>
<text x="771.40" y="101.15" font-size="7" fill="#666" text-anchor="end" font-weight="normal" font-style="normal" >260 347</text>
<text x="834.60" y="101.15" font-size="7" fill="#666" text-anchor="end" font-weight="normal" font-style="normal" >8.242</text>
<text x="897.20" y="101.15" font-size="7" fill="#666" text-anchor="end" font-weight="normal" font-style="normal" >1.090</text>
<text x="960.50" y="101.15" font-size="7" fill="#666" text-anchor="end" font-weight="normal" font-style="normal" >0.134</text>
<text x="616.10" y="110.40" font-size="7" fill="#666" text-anchor="middle" font-weight="normal" font-style="normal" >TM6</text>
<text x="708.10" y="110.40" font-size="7" fill="#666" text-anchor="end" font-weight="normal" font-style="normal" >116</text>
<text x="771.40" y="110.40" font-size="7" fill="#666" text-anchor="end" font-weight="normal" font-style="normal" >115 497</text>
<text x="834.60" y="110.40" font-size="7" fill="#666" text-anchor="end" font-weight="normal" font-style="normal" >8.182</text>
<text x="897.20" y="110.40" font-size="7" fill="#666" text-anchor="end" font-weight="normal" font-style="normal" >0.824</text>
<text x="960.50" y="110.40" font-size="7" fill="#666" text-anchor="end" font-weight="normal" font-style="normal" >0.100</text>
<text x="616.10" y="119.65" font-size="7" fill="#666" text-anchor="middle" font-weight="normal" font-style="normal" >TM7</text>
<text x="708.10" y="119.65" font-size="7" fill="#666" text-anchor="end" font-weight="normal" font-style="normal" >485</text>
<text x="771.40" y="119.65" font-size="7" fill="#666" text-anchor="end" font-weight="normal" font-style="normal" >308 061</text>
<text x="834.60" y="119.65" font-size="7" fill="#666" text-anchor="end" font-weight="normal" font-style="normal" >7.184</text>
<text x="897.20" y="119.65" font-size="7" fill="#666" text-anchor="end" font-weight="normal" font-style="normal" >0.997</text>
<text x="960.50" y="119.65" font-size="7" fill="#666" text-anchor="end" font-weight="normal" font-style="normal" >0.139</text>
<text x="616.10" y="128.95" font-size="7" fill="#666" text-anchor="middle" font-weight="normal" font-style="normal" >TM8</text>
<text x="708.10" y="128.95" font-size="7" fill="#666" text-anchor="end" font-weight="normal" font-style="normal" >136</text>
<text x="771.40" y="128.95" font-size="7" fill="#666" text-anchor="end" font-weight="normal" font-style="normal" >218 074</text>
<text x="834.60" y="128.95" font-size="7" fill="#666" text-anchor="end" font-weight="normal" font-style="normal" >8.522</text>
<text x="897.20" y="128.95" font-size="7" fill="#666" text-anchor="end" font-weight="normal" font-style="normal" >1.016</text>
<text x="960.50" y="128.95" font-size="7" fill="#666" text-anchor="end" font-weight="normal" font-style="normal" >0.124</text>
<text x="616.10" y="138.20" font-size="7" fill="#666" text-anchor="middle" font-weight="normal" font-style="normal" >TM9</text>
<text x="708.10" y="137.20" font-size="7" fill="#666" text-anchor="end" font-weight="normal" font-style="normal" >-</text>
<text x="771.40" y="137.20" font-size="7" fill="#666" text-anchor="end" font-weight="normal" font-style="normal" >-</text>
<text x="834.60" y="137.20" font-size="7" fill="#666" text-anchor="end" font-weight="normal" font-style="normal" >-</text>
<text x="897.20" y="137.20" font-size="7" fill="#666" text-anchor="end" font-weight="normal" font-style="normal" >-</text>
<text x="960.50" y="137.20" font-size="7" fill="#666" text-anchor="end" font-weight="normal" font-style="normal" >-</text>
<text x="616.10" y="147.55" font-size="7" fill="#666" text-anchor="middle" font-weight="normal" font-style="normal" >TCA10</text>
<text x="708.10" y="147.55" font-size="7" fill="#666" text-anchor="end" font-weight="normal" font-style="normal" >392</text>
<text x="771.40" y="147.55" font-size="7" fill="#666" text-anchor="end" font-weight="normal" font-style="normal" >461 242</text>
<text x="834.60" y="147.55" font-size="7" fill="#666" text-anchor="end" font-weight="normal" font-style="normal" >7.457</text>
<text x="897.20" y="147.55" font-size="7" fill="#666" text-anchor="end" font-weight="normal" font-style="normal" >0.948</text>
<text x="960.50" y="147.55" font-size="7" fill="#666" text-anchor="end" font-weight="normal" font-style="normal" >0.129</text>
<text x="616.10" y="156.80" font-size="7" fill="#666" text-anchor="middle" font-weight="normal" font-style="normal" >TCA11</text>
<text x="708.10" y="156.80" font-size="7" fill="#666" text-anchor="end" font-weight="normal" font-style="normal" >130</text>
<text x="771.40" y="156.80" font-size="7" fill="#666" text-anchor="end" font-weight="normal" font-style="normal" >454 204</text>
<text x="834.60" y="156.80" font-size="7" fill="#666" text-anchor="end" font-weight="normal" font-style="normal" >7.180</text>
<text x="897.20" y="156.80" font-size="7" fill="#666" text-anchor="end" font-weight="normal" font-style="normal" >0.933</text>
<text x="960.50" y="156.80" font-size="7" fill="#666" text-anchor="end" font-weight="normal" font-style="normal" >0.130</text>
<text x="616.10" y="165.95" font-size="7" fill="#666" text-anchor="middle" font-weight="normal" font-style="normal" >TCA12</text>
<text x="708.10" y="165.95" font-size="7" fill="#666" text-anchor="end" font-weight="normal" font-style="normal" >169</text>
<text x="771.40" y="165.95" font-size="7" fill="#666" text-anchor="end" font-weight="normal" font-style="normal" >188 159</text>
<text x="834.60" y="165.95" font-size="7" fill="#666" text-anchor="end" font-weight="normal" font-style="normal" >7.042</text>
<text x="897.20" y="165.95" font-size="7" fill="#666" text-anchor="end" font-weight="normal" font-style="normal" >0.857</text>
<text x="960.50" y="165.95" font-size="7" fill="#666" text-anchor="end" font-weight="normal" font-style="normal" >0.129</text>
<text x="616.10" y="175.35" font-size="7" fill="#666" text-anchor="middle" font-weight="normal" font-style="normal" >TCA13</text>
<text x="708.10" y="175.35" font-size="7" fill="#666" text-anchor="end" font-weight="normal" font-style="normal" >61</text>
<text x="771.40" y="175.35" font-size="7" fill="#666" text-anchor="end" font-weight="normal" font-style="normal" >226 253</text>
<text x="834.60" y="175.35" font-size="7" fill="#666" text-anchor="end" font-weight="normal" font-style="normal" >7.868</text>
<text x="897.20" y="175.35" font-size="7" fill="#666" text-anchor="end" font-weight="normal" font-style="normal" >0.747</text>
<text x="960.50" y="175.35" font-size="7" fill="#666" text-anchor="end" font-weight="normal" font-style="normal" >0.097</text>
<text x="616.10" y="184.70" font-size="7" fill="#666" text-anchor="middle" font-weight="normal" font-style="normal" >TCA14</text>
<text x="708.10" y="184.70" font-size="7" fill="#666" text-anchor="end" font-weight="normal" font-style="normal" >59</text>
<text x="771.40" y="184.70" font-size="7" fill="#666" text-anchor="end" font-weight="normal" font-style="normal" >74 382</text>
<text x="834.60" y="184.70" font-size="7" fill="#666" text-anchor="end" font-weight="normal" font-style="normal" >6.617</text>
<text x="897.20" y="184.70" font-size="7" fill="#666" text-anchor="end" font-weight="normal" font-style="normal" >0.641</text>
<text x="960.50" y="184.70" font-size="7" fill="#666" text-anchor="end" font-weight="normal" font-style="normal" >0.097</text>
<text x="616.10" y="193.95" font-size="7" fill="#666" text-anchor="middle" font-weight="normal" font-style="normal" >TCA15</text>
<text x="708.10" y="192.95" font-size="7" fill="#666" text-anchor="end" font-weight="normal" font-style="normal" >-</text>
<text x="771.40" y="192.95" font-size="7" fill="#666" text-anchor="end" font-weight="normal" font-style="normal" >-</text>
<text x="834.60" y="192.95" font-size="7" fill="#666" text-anchor="end" font-weight="normal" font-style="normal" >-</text>
<text x="897.20" y="192.95" font-size="7" fill="#666" text-anchor="end" font-weight="normal" font-style="normal" >-</text>
<text x="960.50" y="192.95" font-size="7" fill="#666" text-anchor="end" font-weight="normal" font-style="normal" >-</text>
<text x="616.10" y="203.25" font-size="7" fill="#666" text-anchor="middle" font-weight="normal" font-style="normal" >TCA16</text>
<text x="708.10" y="203.25" font-size="7" fill="#666" text-anchor="end" font-weight="normal" font-style="normal" >183</text>
<text x="771.40" y="203.25" font-size="7" fill="#666" text-anchor="end" font-weight="normal" font-style="normal" >172 831</text>
<text x="834.60" y="203.25" font-size="7" fill="#666" text-anchor="end" font-weight="normal" font-style="normal" >6.576</text>
<text x="897.20" y="203.25" font-size="7" fill="#666" text-anchor="end" font-weight="normal" font-style="normal" >0.928</text>
<text x="960.50" y="203.25" font-size="7" fill="#666" text-anchor="end" font-weight="normal" font-style="normal" >0.141</text>
<text x="616.10" y="212.60" font-size="7" fill="#666" text-anchor="middle" font-weight="normal" font-style="normal" >TCA17</text>
<text x="708.10" y="212.60" font-size="7" fill="#666" text-anchor="end" font-weight="normal" font-style="normal" >42</text>
<text x="771.40" y="212.60" font-size="7" fill="#666" text-anchor="end" font-weight="normal" font-style="normal" >173 487</text>
<text x="834.60" y="212.60" font-size="7" fill="#666" text-anchor="end" font-weight="normal" font-style="normal" >6.606</text>
<text x="897.20" y="212.60" font-size="7" fill="#666" text-anchor="end" font-weight="normal" font-style="normal" >0.983</text>
<text x="960.50" y="212.60" font-size="7" fill="#666" text-anchor="end" font-weight="normal" font-style="normal" >0.158</text>
<text x="616.10" y="221.80" font-size="7" fill="#666" text-anchor="middle" font-weight="normal" font-style="normal" >TCA18</text>
<text x="708.10" y="221.80" font-size="7" fill="#666" text-anchor="end" font-weight="normal" font-style="normal" >55</text>
<text x="771.40" y="221.80" font-size="7" fill="#666" text-anchor="end" font-weight="normal" font-style="normal" >118 207</text>
<text x="834.60" y="221.80" font-size="7" fill="#666" text-anchor="end" font-weight="normal" font-style="normal" >6.772</text>
<text x="897.20" y="221.80" font-size="7" fill="#666" text-anchor="end" font-weight="normal" font-style="normal" >0.717</text>
<text x="960.50" y="221.80" font-size="7" fill="#666" text-anchor="end" font-weight="normal" font-style="normal" >0.107</text>
<text x="616.10" y="231.30" font-size="7" fill="#666" text-anchor="middle" font-weight="normal" font-style="normal" >TCA19</text>
<text x="708.10" y="231.30" font-size="7" fill="#666" text-anchor="end" font-weight="normal" font-style="normal" >17</text>
<text x="771.40" y="231.30" font-size="7" fill="#666" text-anchor="end" font-weight="normal" font-style="normal" >123 139</text>
<text x="834.60" y="231.30" font-size="7" fill="#666" text-anchor="end" font-weight="normal" font-style="normal" >6.276</text>
<text x="897.20" y="231.30" font-size="7" fill="#666" text-anchor="end" font-weight="normal" font-style="normal" >0.951</text>
<text x="960.50" y="231.30" font-size="7" fill="#666" text-anchor="end" font-weight="normal" font-style="normal" >0.154</text>
<text x="616.10" y="241.20" font-size="7" fill="#666" text-anchor="middle" font-weight="normal" font-style="normal" >altro</text>
<text x="708.10" y="241.20" font-size="7" fill="#666" text-anchor="end" font-weight="normal" font-style="normal" >110</text>
<text x="771.40" y="241.20" font-size="7" fill="#666" text-anchor="end" font-weight="normal" font-style="normal" >76 931</text>
<text x="616.10" y="251.20" font-size="7" fill="#666" text-anchor="middle" font-weight="normal" font-style="normal" >tot.</text>
<text x="708.10" y="251.20" font-size="7" fill="#666" text-anchor="end" font-weight="normal" font-style="normal" >3 856</text>
<text x="771.40" y="251.20" font-size="7" fill="#666" text-anchor="end" font-weight="normal" font-style="normal" >3 807 271</text>
<text x="834.60" y="251.20" font-size="7" fill="#666" text-anchor="end" font-weight="normal" font-style="normal" >7.559</text>
<text x="897.20" y="251.20" font-size="7" fill="#666" text-anchor="end" font-weight="normal" font-style="normal" >1.306</text>
<text x="960.50" y="251.20" font-size="7" fill="#666" text-anchor="end" font-weight="normal" font-style="normal" >0.170</text>
<line x1="583.10" y1="48.50" x2="962.70" y2="48.50" stroke="#333" stroke-width="1.2" />
<line x1="583.10" y1="57.30" x2="962.70" y2="57.30" stroke="#333" stroke-width="1.2" />
<line x1="583.10" y1="66.50" x2="962.70" y2="66.50" stroke="#333" stroke-width="1.2" />
<line x1="583.10" y1="76.00" x2="962.70" y2="76.00" stroke="#333" stroke-width="1.2" />
<line x1="583.10" y1="85.50" x2="962.70" y2="85.50" stroke="#333" stroke-width="1.2" />
<line x1="583.10" y1="94.70" x2="962.70" y2="94.70" stroke="#333" stroke-width="1.2" />
<line x1="583.10" y1="104.00" x2="962.70" y2="104.00" stroke="#333" stroke-width="1.2" />
<line x1="583.10" y1="113.20" x2="962.70" y2="113.20" stroke="#333" stroke-width="1.2" />
<line x1="583.10" y1="122.50" x2="962.70" y2="122.50" stroke="#333" stroke-width="1.2" />
<line x1="583.10" y1="131.80" x2="962.70" y2="131.80" stroke="#333" stroke-width="1.2" />
<line x1="583.10" y1="141.00" x2="962.70" y2="141.00" stroke="#333" stroke-width="1.2" />
<line x1="583.10" y1="150.50" x2="962.70" y2="150.50" stroke="#333" stroke-width="1.2" />
<line x1="583.10" y1="159.50" x2="962.70" y2="159.50" stroke="#333" stroke-width="1.2" />
<line x1="583.10" y1="168.80" x2="962.70" y2="168.80" stroke="#333" stroke-width="1.2" />
<line x1="583.10" y1="178.30" x2="962.70" y2="178.30" stroke="#333" stroke-width="1.2" />
<line x1="583.10" y1="187.50" x2="962.70" y2="187.50" stroke="#333" stroke-width="1.2" />
<line x1="583.10" y1="196.80" x2="962.70" y2="196.80" stroke="#333" stroke-width="1.2" />
<line x1="583.10" y1="206.10" x2="962.70" y2="206.10" stroke="#333" stroke-width="1.2" />
<line x1="583.10" y1="215.50" x2="962.70" y2="215.50" stroke="#333" stroke-width="1.2" />
<line x1="583.10" y1="224.50" x2="962.70" y2="224.50" stroke="#333" stroke-width="1.2" />
<line x1="583.10" y1="234.50" x2="962.70" y2="234.50" stroke="#333" stroke-width="1.2" />
<line x1="583.10" y1="244.30" x2="962.70" y2="244.30" stroke="#333" stroke-width="1.2" />
<line x1="583.10" y1="254.50" x2="962.70" y2="254.50" stroke="#333" stroke-width="1.2" />
<line x1="583.70" y1="48.50" x2="583.70" y2="254.50" stroke="#333" stroke-width="1.2" />
<line x1="646.50" y1="48.50" x2="646.50" y2="254.50" stroke="#333" stroke-width="1.2" />
<line x1="709.70" y1="48.50" x2="709.70" y2="254.50" stroke="#333" stroke-width="1.2" />
<line x1="773.00" y1="48.50" x2="773.00" y2="254.50" stroke="#333" stroke-width="1.2" />
<line x1="836.20" y1="48.50" x2="836.20" y2="234.50" stroke="#333" stroke-width="1.2" />
<line x1="836.20" y1="244.30" x2="836.20" y2="254.50" stroke="#333" stroke-width="1.2" />
<line x1="898.80" y1="48.50" x2="898.80" y2="234.50" stroke="#333" stroke-width="1.2" />
<line x1="898.80" y1="244.30" x2="898.80" y2="254.50" stroke="#333" stroke-width="1.2" />
<line x1="962.10" y1="48.50" x2="962.10" y2="254.50" stroke="#333" stroke-width="1.2" />
<text x="724.30" y="268.20" font-size="7.1" fill="#6a6a6a" text-anchor="start" font-weight="normal" font-style="normal" >BOX PLOT RISCHIO COMUNE</text>
<line x1="627.07" y1="283.20" x2="627.07" y2="313.80" stroke="#e2e2e2" stroke-width="1" />
<line x1="669.13" y1="283.20" x2="669.13" y2="313.80" stroke="#e2e2e2" stroke-width="1" />
<line x1="711.20" y1="283.20" x2="711.20" y2="313.80" stroke="#e2e2e2" stroke-width="1" />
<line x1="753.27" y1="283.20" x2="753.27" y2="313.80" stroke="#e2e2e2" stroke-width="1" />
<line x1="795.33" y1="283.20" x2="795.33" y2="313.80" stroke="#e2e2e2" stroke-width="1" />
<line x1="837.40" y1="283.20" x2="837.40" y2="313.80" stroke="#e2e2e2" stroke-width="1" />
<line x1="879.47" y1="283.20" x2="879.47" y2="313.80" stroke="#e2e2e2" stroke-width="1" />
<line x1="921.53" y1="283.20" x2="921.53" y2="313.80" stroke="#e2e2e2" stroke-width="1" />
<line x1="690.17" y1="298.50" x2="753.27" y2="298.50" stroke="#555" stroke-width="1" />
<line x1="690.17" y1="296.50" x2="690.17" y2="300.50" stroke="#555" stroke-width="1" />
<line x1="795.33" y1="298.50" x2="858.43" y2="298.50" stroke="#555" stroke-width="1" />
<line x1="858.43" y1="296.50" x2="858.43" y2="300.50" stroke="#555" stroke-width="1" />
<rect x="753.27" y="292.30" width="42.07" height="12.30" fill="#c0c0c0" stroke="#404040" stroke-width="1" />
<rect x="794.13" y="292.30" width="2.40" height="12.30" fill="#7030a0" stroke="none" stroke-width="1" />
<circle cx="776.78" cy="298.5" r="2.3" fill="#ff0000"/>
<text x="776.78" y="290.70" font-size="5" fill="#666" text-anchor="middle" font-weight="normal" font-style="normal" >7.559</text>
<rect x="585.00" y="283.20" width="378.60" height="30.60" fill="none" stroke="#4d4d4d" stroke-width="1.3" />
<line x1="585.00" y1="313.80" x2="585.00" y2="316.30" stroke="#4d4d4d" stroke-width="1" />
<text x="585.00" y="323.70" font-size="7.05" fill="#7f7f7f" text-anchor="middle" font-weight="normal" font-style="normal" >3</text>
<line x1="627.07" y1="313.80" x2="627.07" y2="316.30" stroke="#4d4d4d" stroke-width="1" />
<text x="627.07" y="323.70" font-size="7.05" fill="#7f7f7f" text-anchor="middle" font-weight="normal" font-style="normal" >4</text>
<line x1="669.13" y1="313.80" x2="669.13" y2="316.30" stroke="#4d4d4d" stroke-width="1" />
<text x="669.13" y="323.70" font-size="7.05" fill="#7f7f7f" text-anchor="middle" font-weight="normal" font-style="normal" >5</text>
<line x1="711.20" y1="313.80" x2="711.20" y2="316.30" stroke="#4d4d4d" stroke-width="1" />
<text x="711.20" y="323.70" font-size="7.05" fill="#7f7f7f" text-anchor="middle" font-weight="normal" font-style="normal" >6</text>
<line x1="753.27" y1="313.80" x2="753.27" y2="316.30" stroke="#4d4d4d" stroke-width="1" />
<text x="753.27" y="323.70" font-size="7.05" fill="#7f7f7f" text-anchor="middle" font-weight="normal" font-style="normal" >7</text>
<line x1="795.33" y1="313.80" x2="795.33" y2="316.30" stroke="#4d4d4d" stroke-width="1" />
<text x="795.33" y="323.70" font-size="7.05" fill="#7f7f7f" text-anchor="middle" font-weight="normal" font-style="normal" >8</text>
<line x1="837.40" y1="313.80" x2="837.40" y2="316.30" stroke="#4d4d4d" stroke-width="1" />
<text x="837.40" y="323.70" font-size="7.05" fill="#7f7f7f" text-anchor="middle" font-weight="normal" font-style="normal" >9</text>
<line x1="879.47" y1="313.80" x2="879.47" y2="316.30" stroke="#4d4d4d" stroke-width="1" />
<text x="879.47" y="323.70" font-size="7.05" fill="#7f7f7f" text-anchor="middle" font-weight="normal" font-style="normal" >10</text>
<line x1="921.53" y1="313.80" x2="921.53" y2="316.30" stroke="#4d4d4d" stroke-width="1" />
<text x="921.53" y="323.70" font-size="7.05" fill="#7f7f7f" text-anchor="middle" font-weight="normal" font-style="normal" >11</text>
<line x1="963.60" y1="313.80" x2="963.60" y2="316.30" stroke="#4d4d4d" stroke-width="1" />
<text x="963.60" y="323.70" font-size="7.05" fill="#7f7f7f" text-anchor="middle" font-weight="normal" font-style="normal" >12</text>
<text x="702.70" y="398.00" font-size="7.1" fill="#6a6a6a" text-anchor="start" font-weight="normal" font-style="normal" >RISCHIO TIPOLOGIE EDILIZIE - I<tspan font-size="4.5" dy="1.8">r</tspan></text>
<line x1="584.90" y1="535.89" x2="963.20" y2="535.89" stroke="#e2e2e2" stroke-width="1" />
<line x1="584.90" y1="520.48" x2="963.20" y2="520.48" stroke="#e2e2e2" stroke-width="1" />
<line x1="584.90" y1="505.07" x2="963.20" y2="505.07" stroke="#e2e2e2" stroke-width="1" />
<line x1="584.90" y1="489.66" x2="963.20" y2="489.66" stroke="#e2e2e2" stroke-width="1" />
<line x1="584.90" y1="474.24" x2="963.20" y2="474.24" stroke="#e2e2e2" stroke-width="1" />
<line x1="584.90" y1="458.83" x2="963.20" y2="458.83" stroke="#e2e2e2" stroke-width="1" />
<line x1="584.90" y1="443.42" x2="963.20" y2="443.42" stroke="#e2e2e2" stroke-width="1" />
<line x1="584.90" y1="428.01" x2="963.20" y2="428.01" stroke="#e2e2e2" stroke-width="1" />
<line x1="584.90" y1="412.60" x2="963.20" y2="412.60" stroke="#777" stroke-width="1.2" />
<line x1="963.20" y1="412.60" x2="963.20" y2="551.30" stroke="#666" stroke-width="1.3" />
<line x1="584.90" y1="412.60" x2="584.90" y2="551.90" stroke="#4d4d4d" stroke-width="1.3" />
<line x1="584.30" y1="551.30" x2="963.80" y2="551.30" stroke="#4d4d4d" stroke-width="1.3" />
<line x1="583.10" y1="551.30" x2="584.90" y2="551.30" stroke="#4d4d4d" stroke-width="1" />
<text x="578.80" y="553.10" font-size="7.05" fill="#7f7f7f" text-anchor="end" font-weight="normal" font-style="normal" >3</text>
<line x1="583.10" y1="535.89" x2="584.90" y2="535.89" stroke="#4d4d4d" stroke-width="1" />
<text x="578.80" y="537.69" font-size="7.05" fill="#7f7f7f" text-anchor="end" font-weight="normal" font-style="normal" >4</text>
<line x1="583.10" y1="520.48" x2="584.90" y2="520.48" stroke="#4d4d4d" stroke-width="1" />
<text x="578.80" y="522.28" font-size="7.05" fill="#7f7f7f" text-anchor="end" font-weight="normal" font-style="normal" >5</text>
<line x1="583.10" y1="505.07" x2="584.90" y2="505.07" stroke="#4d4d4d" stroke-width="1" />
<text x="578.80" y="506.87" font-size="7.05" fill="#7f7f7f" text-anchor="end" font-weight="normal" font-style="normal" >6</text>
<line x1="583.10" y1="489.66" x2="584.90" y2="489.66" stroke="#4d4d4d" stroke-width="1" />
<text x="578.80" y="491.46" font-size="7.05" fill="#7f7f7f" text-anchor="end" font-weight="normal" font-style="normal" >7</text>
<line x1="583.10" y1="474.24" x2="584.90" y2="474.24" stroke="#4d4d4d" stroke-width="1" />
<text x="578.80" y="476.04" font-size="7.05" fill="#7f7f7f" text-anchor="end" font-weight="normal" font-style="normal" >8</text>
<line x1="583.10" y1="458.83" x2="584.90" y2="458.83" stroke="#4d4d4d" stroke-width="1" />
<text x="578.80" y="460.63" font-size="7.05" fill="#7f7f7f" text-anchor="end" font-weight="normal" font-style="normal" >9</text>
<line x1="583.10" y1="443.42" x2="584.90" y2="443.42" stroke="#4d4d4d" stroke-width="1" />
<text x="578.80" y="445.22" font-size="7.05" fill="#7f7f7f" text-anchor="end" font-weight="normal" font-style="normal" >10</text>
<line x1="583.10" y1="428.01" x2="584.90" y2="428.01" stroke="#4d4d4d" stroke-width="1" />
<text x="578.80" y="429.81" font-size="7.05" fill="#7f7f7f" text-anchor="end" font-weight="normal" font-style="normal" >11</text>
<line x1="583.10" y1="412.60" x2="584.90" y2="412.60" stroke="#4d4d4d" stroke-width="1" />
<text x="578.80" y="414.40" font-size="7.05" fill="#7f7f7f" text-anchor="end" font-weight="normal" font-style="normal" >12</text>
<line x1="593.40" y1="551.30" x2="593.40" y2="553.30" stroke="#4d4d4d" stroke-width="1" />
<line x1="612.35" y1="551.30" x2="612.35" y2="553.30" stroke="#4d4d4d" stroke-width="1" />
<line x1="631.30" y1="551.30" x2="631.30" y2="553.30" stroke="#4d4d4d" stroke-width="1" />
<line x1="650.25" y1="551.30" x2="650.25" y2="553.30" stroke="#4d4d4d" stroke-width="1" />
<line x1="669.20" y1="551.30" x2="669.20" y2="553.30" stroke="#4d4d4d" stroke-width="1" />
<line x1="688.15" y1="551.30" x2="688.15" y2="553.30" stroke="#4d4d4d" stroke-width="1" />
<line x1="707.10" y1="551.30" x2="707.10" y2="553.30" stroke="#4d4d4d" stroke-width="1" />
<line x1="726.05" y1="551.30" x2="726.05" y2="553.30" stroke="#4d4d4d" stroke-width="1" />
<line x1="745.00" y1="551.30" x2="745.00" y2="553.30" stroke="#4d4d4d" stroke-width="1" />
<line x1="763.95" y1="551.30" x2="763.95" y2="553.30" stroke="#4d4d4d" stroke-width="1" />
<line x1="782.90" y1="551.30" x2="782.90" y2="553.30" stroke="#4d4d4d" stroke-width="1" />
<line x1="801.85" y1="551.30" x2="801.85" y2="553.30" stroke="#4d4d4d" stroke-width="1" />
<line x1="820.80" y1="551.30" x2="820.80" y2="553.30" stroke="#4d4d4d" stroke-width="1" />
<line x1="839.75" y1="551.30" x2="839.75" y2="553.30" stroke="#4d4d4d" stroke-width="1" />
<line x1="858.70" y1="551.30" x2="858.70" y2="553.30" stroke="#4d4d4d" stroke-width="1" />
<line x1="877.65" y1="551.30" x2="877.65" y2="553.30" stroke="#4d4d4d" stroke-width="1" />
<line x1="896.60" y1="551.30" x2="896.60" y2="553.30" stroke="#4d4d4d" stroke-width="1" />
<line x1="915.55" y1="551.30" x2="915.55" y2="553.30" stroke="#4d4d4d" stroke-width="1" />
<line x1="934.50" y1="551.30" x2="934.50" y2="553.30" stroke="#4d4d4d" stroke-width="1" />
<line x1="953.45" y1="551.30" x2="953.45" y2="553.30" stroke="#4d4d4d" stroke-width="1" />
<text transform="translate(605.49,555.60) rotate(-90)" font-size="7.25" fill="#7f7f7f" text-anchor="end">TCA19</text>
<line x1="602.88" y1="486.16" x2="602.88" y2="515.47" stroke="#7a7a7a" stroke-width="1" />
<line x1="600.88" y1="486.16" x2="604.88" y2="486.16" stroke="#7a7a7a" stroke-width="1" />
<line x1="600.88" y1="515.47" x2="604.88" y2="515.47" stroke="#7a7a7a" stroke-width="1" />
<rect x="599.98" y="499.96" width="5.80" height="1.70" fill="#ff0000" stroke="none" stroke-width="1" />
<text x="595.08" y="502.51" font-size="5" fill="#666" text-anchor="end" font-weight="normal" font-style="normal" >6.276</text>
<text transform="translate(624.43,555.60) rotate(-90)" font-size="7.25" fill="#7f7f7f" text-anchor="end">TCA18</text>
<line x1="621.82" y1="482.12" x2="621.82" y2="504.22" stroke="#7a7a7a" stroke-width="1" />
<line x1="619.82" y1="482.12" x2="623.82" y2="482.12" stroke="#7a7a7a" stroke-width="1" />
<line x1="619.82" y1="504.22" x2="623.82" y2="504.22" stroke="#7a7a7a" stroke-width="1" />
<rect x="618.92" y="492.32" width="5.80" height="1.70" fill="#ff0000" stroke="none" stroke-width="1" />
<text x="614.02" y="494.87" font-size="5" fill="#666" text-anchor="end" font-weight="normal" font-style="normal" >6.772</text>
<text transform="translate(643.38,555.60) rotate(-90)" font-size="7.25" fill="#7f7f7f" text-anchor="end">TCA17</text>
<line x1="640.77" y1="480.58" x2="640.77" y2="510.88" stroke="#7a7a7a" stroke-width="1" />
<line x1="638.77" y1="480.58" x2="642.77" y2="480.58" stroke="#7a7a7a" stroke-width="1" />
<line x1="638.77" y1="510.88" x2="642.77" y2="510.88" stroke="#7a7a7a" stroke-width="1" />
<rect x="637.88" y="494.88" width="5.80" height="1.70" fill="#ff0000" stroke="none" stroke-width="1" />
<text x="632.98" y="497.43" font-size="5" fill="#666" text-anchor="end" font-weight="normal" font-style="normal" >6.606</text>
<text transform="translate(662.34,555.60) rotate(-90)" font-size="7.25" fill="#7f7f7f" text-anchor="end">TCA16</text>
<line x1="659.73" y1="481.89" x2="659.73" y2="510.49" stroke="#7a7a7a" stroke-width="1" />
<line x1="657.73" y1="481.89" x2="661.73" y2="481.89" stroke="#7a7a7a" stroke-width="1" />
<line x1="657.73" y1="510.49" x2="661.73" y2="510.49" stroke="#7a7a7a" stroke-width="1" />
<rect x="656.83" y="495.34" width="5.80" height="1.70" fill="#ff0000" stroke="none" stroke-width="1" />
<text x="651.93" y="497.89" font-size="5" fill="#666" text-anchor="end" font-weight="normal" font-style="normal" >6.576</text>
<text transform="translate(681.28,555.60) rotate(-90)" font-size="7.25" fill="#7f7f7f" text-anchor="end">TCA15</text>
<text transform="translate(700.24,555.60) rotate(-90)" font-size="7.25" fill="#7f7f7f" text-anchor="end">TCA14</text>
<line x1="697.62" y1="485.68" x2="697.62" y2="505.44" stroke="#7a7a7a" stroke-width="1" />
<line x1="695.62" y1="485.68" x2="699.62" y2="485.68" stroke="#7a7a7a" stroke-width="1" />
<line x1="695.62" y1="505.44" x2="699.62" y2="505.44" stroke="#7a7a7a" stroke-width="1" />
<rect x="694.73" y="494.71" width="5.80" height="1.70" fill="#ff0000" stroke="none" stroke-width="1" />
<text x="689.83" y="497.26" font-size="5" fill="#666" text-anchor="end" font-weight="normal" font-style="normal" >6.617</text>
<text transform="translate(719.18,555.60) rotate(-90)" font-size="7.25" fill="#7f7f7f" text-anchor="end">TCA13</text>
<line x1="716.57" y1="464.77" x2="716.57" y2="487.79" stroke="#7a7a7a" stroke-width="1" />
<line x1="714.57" y1="464.77" x2="718.57" y2="464.77" stroke="#7a7a7a" stroke-width="1" />
<line x1="714.57" y1="487.79" x2="718.57" y2="487.79" stroke="#7a7a7a" stroke-width="1" />
<rect x="713.67" y="475.43" width="5.80" height="1.70" fill="#ff0000" stroke="none" stroke-width="1" />
<text x="708.77" y="477.98" font-size="5" fill="#666" text-anchor="end" font-weight="normal" font-style="normal" >7.868</text>
<text transform="translate(738.13,555.60) rotate(-90)" font-size="7.25" fill="#7f7f7f" text-anchor="end">TCA12</text>
<line x1="735.52" y1="475.80" x2="735.52" y2="502.22" stroke="#7a7a7a" stroke-width="1" />
<line x1="733.52" y1="475.80" x2="737.52" y2="475.80" stroke="#7a7a7a" stroke-width="1" />
<line x1="733.52" y1="502.22" x2="737.52" y2="502.22" stroke="#7a7a7a" stroke-width="1" />
<rect x="732.62" y="488.16" width="5.80" height="1.70" fill="#ff0000" stroke="none" stroke-width="1" />
<text x="727.73" y="490.71" font-size="5" fill="#666" text-anchor="end" font-weight="normal" font-style="normal" >7.042</text>
<text transform="translate(757.08,555.60) rotate(-90)" font-size="7.25" fill="#7f7f7f" text-anchor="end">TCA11</text>
<line x1="754.47" y1="472.50" x2="754.47" y2="501.26" stroke="#7a7a7a" stroke-width="1" />
<line x1="752.47" y1="472.50" x2="756.47" y2="472.50" stroke="#7a7a7a" stroke-width="1" />
<line x1="752.47" y1="501.26" x2="756.47" y2="501.26" stroke="#7a7a7a" stroke-width="1" />
<rect x="751.57" y="486.03" width="5.80" height="1.70" fill="#ff0000" stroke="none" stroke-width="1" />
<text x="746.67" y="488.58" font-size="5" fill="#666" text-anchor="end" font-weight="normal" font-style="normal" >7.180</text>
<text transform="translate(776.03,555.60) rotate(-90)" font-size="7.25" fill="#7f7f7f" text-anchor="end">TCA10</text>
<line x1="773.42" y1="468.00" x2="773.42" y2="497.22" stroke="#7a7a7a" stroke-width="1" />
<line x1="771.42" y1="468.00" x2="775.42" y2="468.00" stroke="#7a7a7a" stroke-width="1" />
<line x1="771.42" y1="497.22" x2="775.42" y2="497.22" stroke="#7a7a7a" stroke-width="1" />
<rect x="770.52" y="481.76" width="5.80" height="1.70" fill="#ff0000" stroke="none" stroke-width="1" />
<text x="765.62" y="484.31" font-size="5" fill="#666" text-anchor="end" font-weight="normal" font-style="normal" >7.457</text>
<text transform="translate(794.99,555.60) rotate(-90)" font-size="7.25" fill="#7f7f7f" text-anchor="end">TM9</text>
<text transform="translate(813.93,555.60) rotate(-90)" font-size="7.25" fill="#7f7f7f" text-anchor="end">TM8</text>
<line x1="811.32" y1="450.54" x2="811.32" y2="481.86" stroke="#7a7a7a" stroke-width="1" />
<line x1="809.32" y1="450.54" x2="813.32" y2="450.54" stroke="#7a7a7a" stroke-width="1" />
<line x1="809.32" y1="481.86" x2="813.32" y2="481.86" stroke="#7a7a7a" stroke-width="1" />
<rect x="808.42" y="465.35" width="5.80" height="1.70" fill="#ff0000" stroke="none" stroke-width="1" />
<text x="803.52" y="467.90" font-size="5" fill="#666" text-anchor="end" font-weight="normal" font-style="normal" >8.522</text>
<text transform="translate(832.88,555.60) rotate(-90)" font-size="7.25" fill="#7f7f7f" text-anchor="end">TM7</text>
<line x1="830.27" y1="471.46" x2="830.27" y2="502.18" stroke="#7a7a7a" stroke-width="1" />
<line x1="828.27" y1="471.46" x2="832.27" y2="471.46" stroke="#7a7a7a" stroke-width="1" />
<line x1="828.27" y1="502.18" x2="832.27" y2="502.18" stroke="#7a7a7a" stroke-width="1" />
<rect x="827.38" y="485.97" width="5.80" height="1.70" fill="#ff0000" stroke="none" stroke-width="1" />
<text x="822.48" y="488.52" font-size="5" fill="#666" text-anchor="end" font-weight="normal" font-style="normal" >7.184</text>
<text transform="translate(851.83,555.60) rotate(-90)" font-size="7.25" fill="#7f7f7f" text-anchor="end">TM6</text>
<line x1="849.22" y1="458.74" x2="849.22" y2="484.14" stroke="#7a7a7a" stroke-width="1" />
<line x1="847.22" y1="458.74" x2="851.22" y2="458.74" stroke="#7a7a7a" stroke-width="1" />
<line x1="847.22" y1="484.14" x2="851.22" y2="484.14" stroke="#7a7a7a" stroke-width="1" />
<rect x="846.32" y="470.59" width="5.80" height="1.70" fill="#ff0000" stroke="none" stroke-width="1" />
<text x="841.42" y="473.14" font-size="5" fill="#666" text-anchor="end" font-weight="normal" font-style="normal" >8.182</text>
<text transform="translate(870.78,555.60) rotate(-90)" font-size="7.25" fill="#7f7f7f" text-anchor="end">TM5</text>
<line x1="868.17" y1="453.72" x2="868.17" y2="487.31" stroke="#7a7a7a" stroke-width="1" />
<line x1="866.17" y1="453.72" x2="870.17" y2="453.72" stroke="#7a7a7a" stroke-width="1" />
<line x1="866.17" y1="487.31" x2="870.17" y2="487.31" stroke="#7a7a7a" stroke-width="1" />
<rect x="865.27" y="469.66" width="5.80" height="1.70" fill="#ff0000" stroke="none" stroke-width="1" />
<text x="860.38" y="472.21" font-size="5" fill="#666" text-anchor="end" font-weight="normal" font-style="normal" >8.242</text>
<text transform="translate(889.74,555.60) rotate(-90)" font-size="7.25" fill="#7f7f7f" text-anchor="end">TM4</text>
<text transform="translate(908.69,555.60) rotate(-90)" font-size="7.25" fill="#7f7f7f" text-anchor="end">TM3</text>
<line x1="906.08" y1="458.85" x2="906.08" y2="501.63" stroke="#7a7a7a" stroke-width="1" />
<line x1="904.08" y1="458.85" x2="908.08" y2="458.85" stroke="#7a7a7a" stroke-width="1" />
<line x1="904.08" y1="501.63" x2="908.08" y2="501.63" stroke="#7a7a7a" stroke-width="1" />
<rect x="903.18" y="479.39" width="5.80" height="1.70" fill="#ff0000" stroke="none" stroke-width="1" />
<text x="898.28" y="481.94" font-size="5" fill="#666" text-anchor="end" font-weight="normal" font-style="normal" >7.611</text>
<text transform="translate(927.63,555.60) rotate(-90)" font-size="7.25" fill="#7f7f7f" text-anchor="end">TM2</text>
<line x1="925.02" y1="448.37" x2="925.02" y2="491.86" stroke="#7a7a7a" stroke-width="1" />
<line x1="923.02" y1="448.37" x2="927.02" y2="448.37" stroke="#7a7a7a" stroke-width="1" />
<line x1="923.02" y1="491.86" x2="927.02" y2="491.86" stroke="#7a7a7a" stroke-width="1" />
<rect x="922.12" y="469.26" width="5.80" height="1.70" fill="#ff0000" stroke="none" stroke-width="1" />
<text x="917.23" y="471.81" font-size="5" fill="#666" text-anchor="end" font-weight="normal" font-style="normal" >8.268</text>
<text transform="translate(946.58,555.60) rotate(-90)" font-size="7.25" fill="#7f7f7f" text-anchor="end">TM1</text>
<line x1="943.97" y1="447.75" x2="943.97" y2="490.01" stroke="#7a7a7a" stroke-width="1" />
<line x1="941.97" y1="447.75" x2="945.97" y2="447.75" stroke="#7a7a7a" stroke-width="1" />
<line x1="941.97" y1="490.01" x2="945.97" y2="490.01" stroke="#7a7a7a" stroke-width="1" />
<rect x="941.07" y="468.03" width="5.80" height="1.70" fill="#ff0000" stroke="none" stroke-width="1" />
<text x="936.17" y="470.58" font-size="5" fill="#666" text-anchor="end" font-weight="normal" font-style="normal" >8.348</text>
</svg>
</body></html>
